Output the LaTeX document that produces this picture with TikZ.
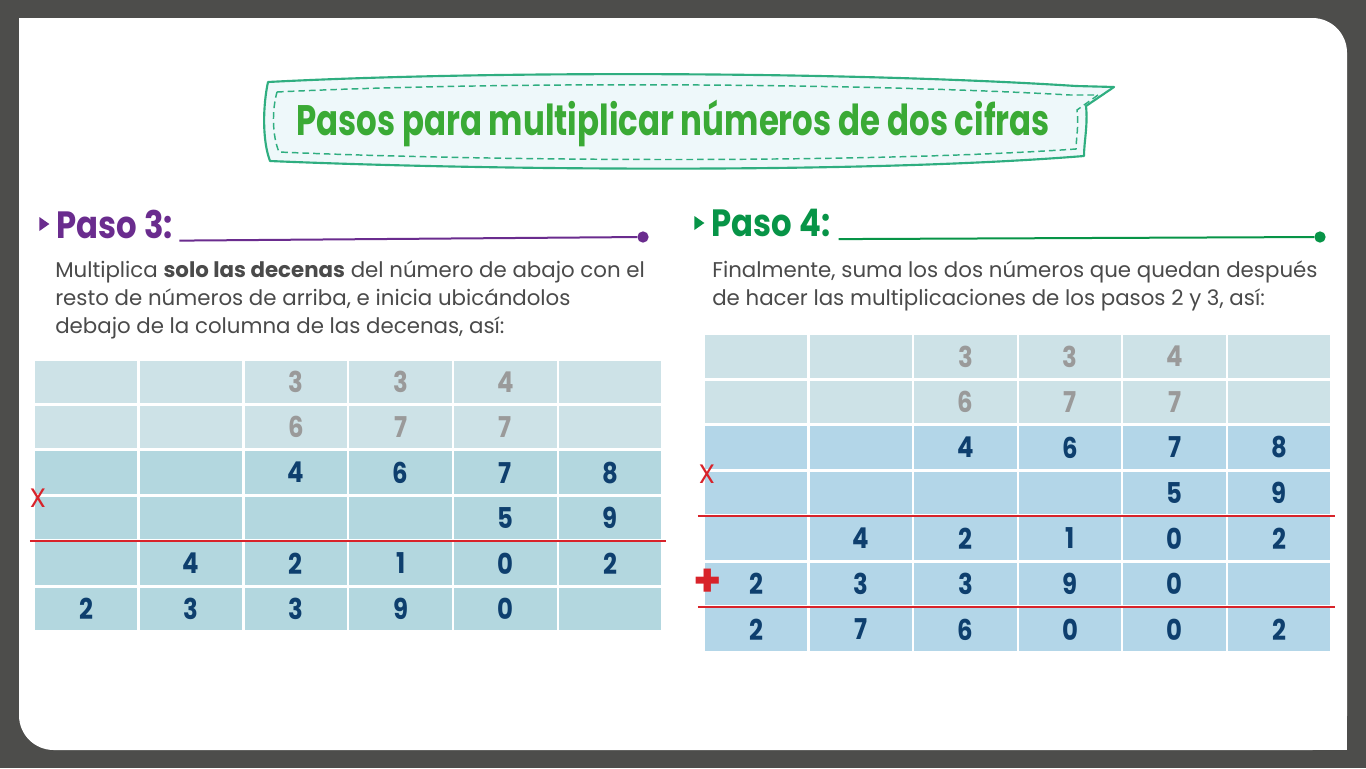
\documentclass[tikz,border=0pt]{standalone}
\usepackage{fontspec}
\setmainfont{Poppins}
\newfontfamily\titlefont[FakeStretch=0.76]{Poppins}
\newfontfamily\headfont[FakeStretch=0.85]{Poppins}
\usetikzlibrary{positioning,shapes.geometric}

\definecolor{pagegray}{HTML}{4D4D4B}
\definecolor{bubblefill}{HTML}{EEF8FA}
\definecolor{bubbleline}{HTML}{2FAE80}
\definecolor{titlegreen}{HTML}{3AAA35}
\definecolor{pasoA}{HTML}{6A2C8E}
\definecolor{pasoB}{HTML}{079447}
\definecolor{bodygray}{HTML}{4A4A4A}
\definecolor{toprow}{HTML}{CDE2E7}
\definecolor{cellA}{HTML}{B3D7DF}
\definecolor{cellB}{HTML}{B3D6E8}
\definecolor{topdigit}{HTML}{9A9A9A}
\definecolor{navy}{HTML}{0E3F6E}
\definecolor{markred}{HTML}{D8232A}

\begin{document}
\begin{tikzpicture}[x=0.75pt, y=-0.75pt, node distance=6pt]
\tikzstyle{every node}=[inner sep=0pt]
\tikzstyle{cell}=[minimum width=76.7pt, minimum height=31.9pt, font=\headfont\bfseries\fontsize{21.5}{21.5}\selectfont]
\tikzstyle{marker}=[isosceles triangle, isosceles triangle apex angle=70, minimum height=7.5pt, minimum width=9.5pt]
\tikzstyle{headtext}=[font=\headfont\bfseries\fontsize{28.5}{28.5}\selectfont]
\tikzstyle{bodytext}=[align=left, text=bodygray, font=\fontsize{16}{21}\selectfont]
\tikzstyle{enddot}=[circle, minimum size=8.5pt]
\tikzstyle{redline}=[draw=markred, line width=1.9pt]
\tikzstyle{redmark}=[text=markred, font=\fontsize{20}{20}\selectfont]
   \useasboundingbox (0,0) rectangle (1366,768);
   \fill[pagegray] (0,0) rectangle (1366,768);
   \fill[white, rounded corners=26pt] (19,18) rectangle (1347,750);
   \fill[white] (19,18) rectangle (80,80);
   \fill[white] (1280,690) rectangle (1347,750);
   % title bubble
   \filldraw[fill=bubblefill, draw=bubbleline, line width=1.6pt, line join=round] (268,82) .. controls (500,70) and (860,72) .. (1076,86) -- (1114,87) -- (1086,106) .. controls (1088,125) and (1084,142) .. (1084,156) .. controls (860,174) and (480,170) .. (270,161) .. controls (262,140) and (263,105) .. cycle;
   \draw[bubbleline, line width=1.1pt, dash pattern=on 5pt off 3pt] (277,92) .. controls (500,81) and (860,83) .. (1070,95) -- (1098,95) -- (1077,110) .. controls (1079,125) and (1076,140) .. (1076,149) .. controls (860,164) and (480,161) .. (279,152) .. controls (272,135) and (272,110) .. cycle;
   \node[text=titlegreen, font=\titlefont\bfseries\fontsize{32}{32}\selectfont](title) at (673,123) {Pasos para multiplicar números de dos cifras};
   % paso 3
   \node[marker, fill=pasoA](m3) at (43,224) {};
   \node[headtext, text=pasoA](h3)[right=5pt of m3] {Paso 3:};
   \node[enddot, fill=pasoA](d3) at (643,237) {};
   \draw[pasoA, line width=1.5pt] ([shift={(6,2)}]h3.south east) -- (d3);
   \node[bodytext, anchor=north west](t3) at (55,261) {Multiplica \textbf{solo las decenas} del número de abajo con el\\resto de números de arriba, e inicia ubicándolos\\debajo de la columna de las decenas, así:};
   \foreach \row [count=\r] in {{,,3,3,4,},{,,6,7,7,},{,,4,6,7,8},{,,,,5,9},{,4,2,1,0,2},{2,3,3,9,0,}}{
     \foreach \d [count=\c] in \row {
       \ifnum\r<3 \def\cellfill{toprow}\def\digit{topdigit}\else\def\cellfill{cellA}\def\digit{navy}\fi
       \node[cell, fill=\cellfill, text=\digit](a\r\c) at ({86.2+(\c-1)*104.8},{381.8+(\r-1)*45.4}) {\d};
     }
   }
   \draw[redline] ([shift={(-5,1.5)}]a41.south west) -- ([shift={(4,1.5)}]a46.south east);
   \node[redmark](x3) at ([shift={(3,2)}]a41.north west) {X};
   % paso 4
   \node[marker, fill=pasoB](m4) at (698,223) {};
   \node[headtext, text=pasoB](h4)[right=5pt of m4] {Paso 4:};
   \node[enddot, fill=pasoB](d4) at (1320,237) {};
   \draw[pasoB, line width=1.5pt] ([shift={(8,2)}]h4.south east) -- (d4);
   \node[bodytext, anchor=north west](t4) at (712,261) {Finalmente, suma los dos números que quedan después\\de hacer las multiplicaciones de los pasos 2 y 3, así:};
   \foreach \row [count=\r] in {{,,3,3,4,},{,,6,7,7,},{,,4,6,7,8},{,,,,5,9},{,4,2,1,0,2},{2,3,3,9,0,},{2,7,6,0,0,2}}{
     \foreach \d [count=\c] in \row {
       \ifnum\r<3 \def\cellfill{toprow}\def\digit{topdigit}\else\def\cellfill{cellB}\def\digit{navy}\fi
       \node[cell, fill=\cellfill, text=\digit](b\r\c) at ({756.2+(\c-1)*104.6},{356.5+(\r-1)*45.5}) {\d};
     }
   }
   \draw[redline] ([shift={(-7,1.5)}]b41.south west) -- ([shift={(4,1.5)}]b46.south east);
   \draw[redline] ([shift={(-7,1.5)}]b61.south west) -- ([shift={(4,1.5)}]b66.south east);
   \node[redmark](x4) at ([shift={(2,3)}]b41.north west) {X};
   \node[text=markred, font=\bfseries\fontsize{34}{34}\selectfont](p4) at ([shift={(3,-1)}]b61.west) {+};
\end{tikzpicture}
\end{document}
